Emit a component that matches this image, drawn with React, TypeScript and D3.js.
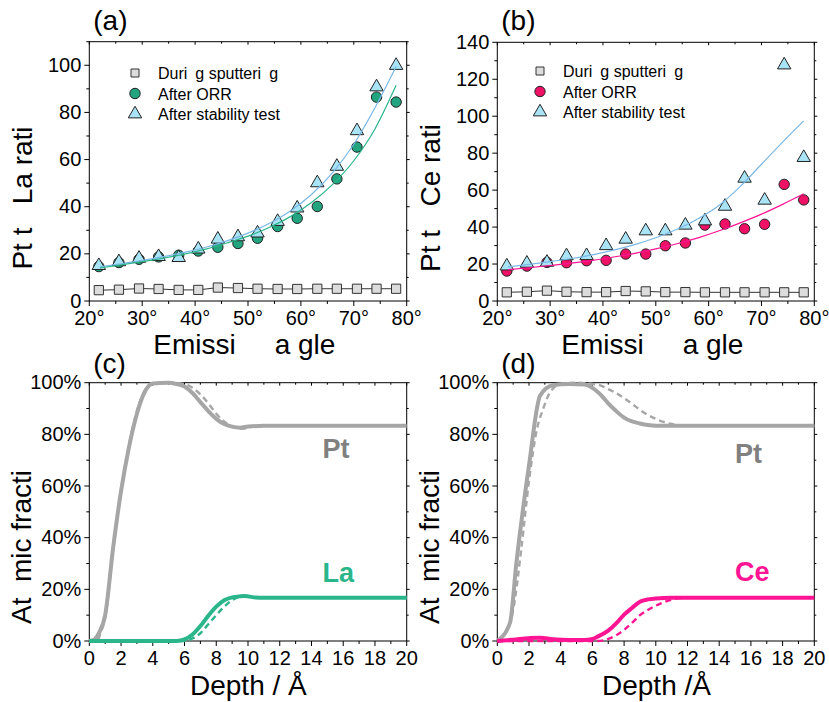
import React from "react";
import * as d3 from "d3";

// ---------- DATA ----------
const anglesDeg = [21.8, 25.6, 29.4, 33.1, 36.9, 40.6, 44.3, 48.1, 51.8, 55.6, 59.3, 63.1, 66.8, 70.6, 74.3, 78.0];
const laSputter = [4.6, 4.8, 5.3, 5.1, 4.7, 4.7, 5.7, 5.5, 5.2, 5.1, 5.1, 5.2, 5.2, 5.2, 5.2, 5.2];
const laOrr = [14.6, 16.3, 17.7, 18.7, 19.4, 21.2, 22.8, 24.4, 26.6, 31.6, 35.1, 40.1, 51.8, 65.3, 86.5, 84.4];
const laStab = [15.0, 16.6, 18.1, 18.8, 18.4, 22.0, 26.2, 27.2, 28.8, 33.7, 39.4, 50.1, 57.1, 72.2, 90.8, 99.9];
const ceSputter = [4.7, 5.0, 5.6, 5.0, 4.8, 4.8, 5.4, 5.2, 4.8, 4.8, 4.7, 4.7, 4.7, 4.7, 4.7, 4.7];
const ceOrr = [16.2, 18.9, 20.9, 20.7, 21.8, 22.0, 25.4, 25.4, 29.9, 31.4, 41.1, 41.7, 39.1, 41.5, 63.1, 54.7];
const ceStab = [18.9, 20.4, 20.9, 24.4, 24.5, 29.9, 33.4, 37.9, 37.9, 41.0, 43.3, 51.2, 66.4, 54.5, 127.7, 77.6];

const fitAngles = [22, 26, 30, 34, 38, 42, 46, 50, 54, 58, 62, 66, 70, 74, 78];
const laOrrFit = [14.0, 15.3, 16.7, 18.2, 19.9, 22.0, 24.6, 27.5, 31.2, 35.8, 41.8, 49.5, 59.5, 73.0, 91.5];
const laStabFit = [14.5, 15.8, 17.2, 18.8, 20.6, 22.8, 25.5, 28.8, 32.9, 38.2, 45.2, 54.5, 66.5, 82.0, 99.5];
const ceOrrFit = [17.0, 18.0, 19.2, 20.5, 22.0, 23.8, 25.8, 28.2, 31.0, 34.2, 38.0, 42.3, 47.0, 52.3, 58.0];
const ceStabFit = [18.5, 19.8, 21.3, 23.0, 25.0, 27.5, 30.5, 34.2, 38.8, 44.5, 51.8, 62.0, 74.0, 86.0, 97.5];

const angleTicks = [20, 30, 40, 50, 60, 70, 80];
const laRatioTicks = [0, 20, 40, 60, 80, 100];
const ceRatioTicks = [0, 20, 40, 60, 80, 100, 120, 140];
const depthTicks = [0, 2, 4, 6, 8, 10, 12, 14, 16, 18, 20];
const fracTicks = [0, 20, 40, 60, 80, 100];

const legendLabels = ["Duri\u2002g sputteri\u2002g", "After ORR", "After stability test"];

// depth profiles (c)
const ptLaSolidX = [0, 0.3, 0.6, 1, 1.5, 2, 2.5, 3, 3.5, 4, 5, 5.5, 6, 6.5, 7, 7.5, 8, 8.5, 9, 9.5, 10, 11, 20];
const ptLaSolidY = [0, 0.5, 3, 10, 36, 58, 75, 88, 96.5, 99.7, 100, 99.5, 98.5, 96, 92.5, 89, 86, 84, 83, 82.6, 83, 83.3, 83.3];
const ptLaDashX = [0, 0.5, 0.7, 1, 1.5, 2, 2.5, 3, 3.5, 4, 5, 6, 6.5, 7, 7.5, 8, 8.5, 9, 9.5, 10, 10.5, 20];
const ptLaDashY = [0, 0, 3, 9, 35, 58, 76, 89, 97, 99.7, 100, 99.5, 98, 95.5, 92, 88, 85, 83, 82.2, 82.5, 83.3, 83.3];
const laSolidX = [0, 5.5, 6, 6.5, 7, 7.5, 8, 8.5, 9, 9.5, 9.8, 10.5, 11, 20];
const laSolidY = [0, 0, 0.6, 2.5, 5.8, 9.8, 13.3, 15.8, 16.9, 17.3, 17.4, 16.8, 16.7, 16.7];
const laDashX = [0, 6, 6.5, 7, 7.5, 8, 8.5, 9, 9.5, 10, 10.5, 20];
const laDashY = [0, 0, 1, 3, 6.5, 10, 13.3, 15.8, 17, 17.2, 16.8, 16.7];

// depth profiles (d)
const ptCeSolidX = [0, 0.8, 1.2, 2, 2.7, 3.5, 4.5, 5.5, 6, 6.5, 7, 7.5, 8, 8.5, 9, 9.5, 10, 11, 20];
const ptCeSolidY = [0, 7, 30, 68, 95, 99, 99.5, 99.3, 98, 95.5, 92, 89, 86.5, 85, 84.2, 83.6, 83.3, 83.3, 83.3];
const ptCeDashX = [0, 0.5, 1, 1.5, 2, 2.5, 2.9, 3.3, 4, 5, 6, 6.5, 7, 7.5, 8, 8.5, 9, 9.5, 10, 10.5, 11, 11.5, 12, 20];
const ptCeDashY = [0, 3, 12, 35, 62, 82, 90, 96, 99.5, 100, 99.5, 99, 97.5, 96, 94, 91.8, 89.5, 87.5, 86, 84.8, 84, 83.5, 83.3, 83.3];
const ceSolidX = [0, 1, 2, 2.7, 3.5, 4.5, 5.5, 6, 6.3, 7, 7.5, 8, 8.5, 9, 9.5, 10, 11, 20];
const ceSolidY = [0, 0.5, 1.1, 1.3, 0.7, 0.4, 0.4, 0.8, 1.6, 4, 6.8, 10.2, 12.8, 15.2, 16.1, 16.5, 16.7, 16.7];
const ceDashX = [0, 6.3, 7, 7.5, 8, 8.5, 9, 9.5, 10, 10.5, 11, 11.5, 12, 20];
const ceDashY = [0, 0, 0.8, 2.2, 4.3, 7, 10, 12, 13.7, 15, 16, 16.6, 16.7, 16.7];

// ---------- STYLE ----------
const FONT = "'Liberation Sans', Arial, sans-serif";
const GREEN = "#22a57f";
const GREEN_LINE = "#2bb58a";
const PINK = "#ee1166";
const PINK_LINE = "#ff1493";
const TRI = "#a8e4f6";
const BLUE_LINE = "#7ab8e6";
const SQ = "#dcdcdc";
const GRAY_LINE = "#a6a6a6";

type Box = { x0: number; x1: number; y0: number; y1: number };

function Frame({ box, xs, ys, xTicks, xMinor, yTicks, yMinor, xFmt, yFmt }: any) {
  const { x0, x1, y0, y1 } = box;
  return (
    <g>
      <rect x={x0} y={y1} width={x1 - x0} height={y0 - y1} fill="none" stroke="#000" strokeWidth={1} />
      {xTicks.map((t: number) => (
        <g key={"xt" + t}>
          <line x1={xs(t)} x2={xs(t)} y1={y0} y2={y0 + 5} stroke="#000" />
          <line x1={xs(t)} x2={xs(t)} y1={y1} y2={y1 + 3} stroke="#000" />
          <text x={xs(t)} y={y0 + 24} textAnchor="middle" fontSize={20} fontFamily={FONT}>{xFmt(t)}</text>
        </g>
      ))}
      {xMinor.map((t: number) => (
        <g key={"xm" + t}>
          <line x1={xs(t)} x2={xs(t)} y1={y0} y2={y0 + 3} stroke="#000" />
          <line x1={xs(t)} x2={xs(t)} y1={y1} y2={y1 + 2} stroke="#000" />
        </g>
      ))}
      {yTicks.map((t: number) => (
        <g key={"yt" + t}>
          <line x1={x0} x2={x0 - 5} y1={ys(t)} y2={ys(t)} stroke="#000" />
          <line x1={x1} x2={x1 + 3} y1={ys(t)} y2={ys(t)} stroke="#000" />
          <text x={x0 - 8} y={ys(t) + 6.5} textAnchor="end" fontSize={20} fontFamily={FONT}>{yFmt(t)}</text>
        </g>
      ))}
      {yMinor.map((t: number) => (
        <g key={"ym" + t}>
          <line x1={x0} x2={x0 - 3} y1={ys(t)} y2={ys(t)} stroke="#000" />
          <line x1={x1} x2={x1 + 2} y1={ys(t)} y2={ys(t)} stroke="#000" />
        </g>
      ))}
    </g>
  );
}

const sqPath = d3.symbol().type(d3.symbolSquare).size(85)()!;
const sqLegPath = d3.symbol().type(d3.symbolSquare).size(64)()!;
const triPath = d3.symbol().type(d3.symbolTriangle).size(78)()!;

function ScatterPanel({ box, yMax, yTicks, yMinor, sputter, orr, stab, orrFit, stabFit, orrColor, orrLine, label, yLabel, legendX, legendY }: any) {
  const xs = d3.scaleLinear().domain([20, 80]).range([box.x0, box.x1]);
  const ys = d3.scaleLinear().domain([0, yMax]).range([box.y0, box.y1]);
  const fitLine = d3.line<number>().x((_, i) => xs(fitAngles[i])).y((v) => ys(v)).curve(d3.curveMonotoneX);
  const sqLine = d3.line<number>().x((_, i) => xs(anglesDeg[i])).y((v) => ys(v));
  return (
    <g>
      <Frame box={box} xs={xs} ys={ys} xTicks={angleTicks} xMinor={[25, 35, 45, 55, 65, 75]} yTicks={yTicks} yMinor={yMinor}
        xFmt={(t: number) => t + "°"} yFmt={(t: number) => String(t)} />
      <path d={sqLine(sputter)!} fill="none" stroke="#333" strokeWidth={1} />
      {sputter.map((v: number, i: number) => (
        <path key={"s" + i} d={sqPath} transform={`translate(${xs(anglesDeg[i])},${ys(v)})`} fill={SQ} stroke="#333" strokeWidth={1} />
      ))}
      {orr.map((v: number, i: number) => (
        <circle key={"o" + i} cx={xs(anglesDeg[i])} cy={ys(v)} r={5.2} fill={orrColor} stroke="#222" strokeWidth={1} />
      ))}
      {stab.map((v: number, i: number) => (
        <path key={"t" + i} d={triPath} transform={`translate(${xs(anglesDeg[i])},${ys(v)})`} fill={TRI} stroke="#222" strokeWidth={1} />
      ))}
      <path d={fitLine(stabFit)!} fill="none" stroke={BLUE_LINE} strokeWidth={1.2} />
      <path d={fitLine(orrFit)!} fill="none" stroke={orrLine} strokeWidth={1.2} />
      {/* legend */}
      <path d={sqLegPath} transform={`translate(${legendX},${legendY})`} fill={SQ} stroke="#333" strokeWidth={1} />
      <circle cx={legendX} cy={legendY + 20.5} r={5.2} fill={orrColor} stroke="#222" strokeWidth={1} />
      <path d={triPath} transform={`translate(${legendX},${legendY + 41})`} fill={TRI} stroke="#222" strokeWidth={1} />
      {legendLabels.map((l, i) => (
        <text key={l} x={legendX + 23} y={legendY + 6 + i * 20.5} fontSize={16} fontFamily={FONT} style={{ whiteSpace: "pre" }}>{l}</text>
      ))}
      <text x={box.x0 + 4} y={30} fontSize={28} fontFamily={FONT}>{label}</text>
      <text x={box.x0 + 64} y={354} fontSize={28} fontFamily={FONT} style={{ whiteSpace: "pre" }}>{"Emissi     a gle"}</text>
      <text transform={`translate(${box.x0 - 57},198) rotate(-90)`} textAnchor="middle" fontSize={28} fontFamily={FONT} style={{ whiteSpace: "pre" }}>{yLabel}</text>
    </g>
  );
}

function DepthPanel({ box, lines, label, xTitle, elemName, elemColor, ptBase, elemBase, labelAt }: any) {
  const xs = d3.scaleLinear().domain([0, 20]).range([box.x0, box.x1]);
  const ys = d3.scaleLinear().domain([0, 100]).range([box.y0, box.y1]);
  return (
    <g>
      <Frame box={box} xs={xs} ys={ys} xTicks={depthTicks} xMinor={d3.range(1, 20, 2)} yTicks={fracTicks} yMinor={[10, 30, 50, 70, 90]}
        xFmt={(t: number) => String(t)} yFmt={(t: number) => t + "%"} />
      {lines.map((ln: any, k: number) => {
        const g = d3.line<number>().x((_, i) => xs(ln.x[i])).y((v) => ys(v)).curve(d3.curveMonotoneX);
        return (
          <path key={k} d={g(ln.y)!} fill="none" stroke={ln.color} strokeWidth={ln.dash ? 2.4 : 4}
            strokeDasharray={ln.dash ? "6,4" : undefined} strokeLinejoin="round" strokeLinecap="butt" />
        );
      })}
      <text x={xs(labelAt)} y={ptBase} fontSize={27} fontWeight="bold" fontFamily={FONT} fill="#808080">Pt</text>
      <text x={xs(labelAt)} y={elemBase} fontSize={27} fontWeight="bold" fontFamily={FONT} fill={elemColor}>{elemName}</text>
      <text x={box.x0 + 4} y={373} fontSize={28} fontFamily={FONT}>{label}</text>
      <text x={xTitle.x} y={695} fontSize={28} fontFamily={FONT}>{xTitle.text}</text>
      <text transform={`translate(${box.x0 - 58},547) rotate(-90)`} textAnchor="middle" fontSize={28} fontFamily={FONT} style={{ whiteSpace: "pre" }}>{"At  mic fracti"}</text>
    </g>
  );
}

export default function App() {
  const boxA: Box = { x0: 89.3, x1: 406.7, y0: 301, y1: 41.7 };
  const boxB: Box = { x0: 497.3, x1: 814.3, y0: 301, y1: 42.3 };
  const boxC: Box = { x0: 89.3, x1: 406.7, y0: 641, y1: 382.7 };
  const boxD: Box = { x0: 497.3, x1: 814.3, y0: 641, y1: 382.7 };
  return (
    <svg width={829} height={702} style={{ position: "absolute", left: 0, top: 0, background: "#fff" }}>
      <rect width={829} height={702} fill="#fff" />
      <ScatterPanel box={boxA} yMax={110} yTicks={laRatioTicks} yMinor={[10, 30, 50, 70, 90, 110]}
        sputter={laSputter} orr={laOrr} stab={laStab} orrFit={laOrrFit} stabFit={laStabFit}
        orrColor={GREEN} orrLine={GREEN_LINE} label="(a)" yLabel={"Pt t   La rati"} legendX={135} legendY={73} />
      <ScatterPanel box={boxB} yMax={140} yTicks={ceRatioTicks} yMinor={[10, 30, 50, 70, 90, 110, 130]}
        sputter={ceSputter} orr={ceOrr} stab={ceStab} orrFit={ceOrrFit} stabFit={ceStabFit}
        orrColor={PINK} orrLine={PINK_LINE} label="(b)" yLabel={"Pt t   Ce rati"} legendX={540} legendY={71} />
      <DepthPanel box={boxC} label="(c)" xTitle={{ x: 190, text: "Depth / Å" }} elemName="La" elemColor={GREEN_LINE}
        ptBase={458} elemBase={582} labelAt={14.7}
        lines={[
          { x: ptLaDashX, y: ptLaDashY, color: GRAY_LINE, dash: true },
          { x: ptLaSolidX, y: ptLaSolidY, color: GRAY_LINE, dash: false },
          { x: laDashX, y: laDashY, color: GREEN_LINE, dash: true },
          { x: laSolidX, y: laSolidY, color: GREEN_LINE, dash: false },
        ]} />
      <DepthPanel box={boxD} label="(d)" xTitle={{ x: 602, text: "Depth /Å" }} elemName="Ce" elemColor={PINK_LINE}
        ptBase={463} elemBase={581} labelAt={15.0}
        lines={[
          { x: ptCeDashX, y: ptCeDashY, color: GRAY_LINE, dash: true },
          { x: ptCeSolidX, y: ptCeSolidY, color: GRAY_LINE, dash: false },
          { x: ceDashX, y: ceDashY, color: PINK_LINE, dash: true },
          { x: ceSolidX, y: ceSolidY, color: PINK_LINE, dash: false },
        ]} />
    </svg>
  );
}
